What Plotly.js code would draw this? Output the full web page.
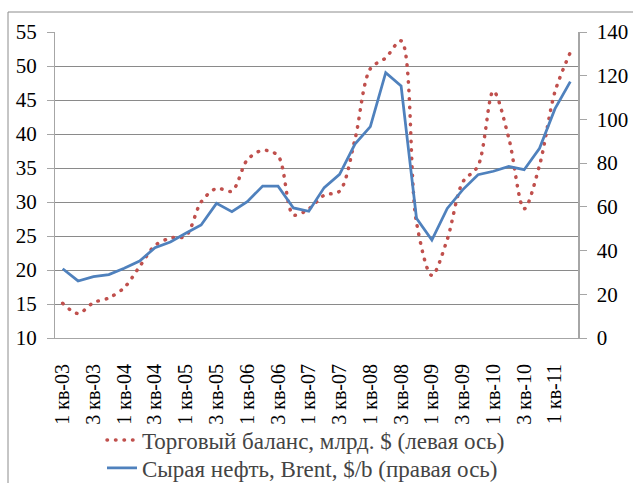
<!DOCTYPE html>
<html>
<head>
<meta charset="utf-8">
<script src="https://cdn.plot.ly/plotly-3.0.1.min.js"></script>
<style>
  html, body { margin: 0; padding: 0; background: #fff; overflow: hidden; }
  #chart { width: 633px; height: 483px; }
</style>
</head>
<body>
<div id="chart"></div>
<script>
// Quarters 1 кв-03 .. 2 кв-11
const categories = [
  "1 кв-03","2 кв-03","3 кв-03","4 кв-03",
  "1 кв-04","2 кв-04","3 кв-04","4 кв-04",
  "1 кв-05","2 кв-05","3 кв-05","4 кв-05",
  "1 кв-06","2 кв-06","3 кв-06","4 кв-06",
  "1 кв-07","2 кв-07","3 кв-07","4 кв-07",
  "1 кв-08","2 кв-08","3 кв-08","4 кв-08",
  "1 кв-09","2 кв-09","3 кв-09","4 кв-09",
  "1 кв-10","2 кв-10","3 кв-10","4 кв-10",
  "1 кв-11","2 кв-11"
];
const tickLabels = [
  "1 кв-03","3 кв-03","1 кв-04","3 кв-04","1 кв-05","3 кв-05",
  "1 кв-06","3 кв-06","1 кв-07","3 кв-07","1 кв-08","3 кв-08",
  "1 кв-09","3 кв-09","1 кв-10","3 кв-10","1 кв-11"
];
// Trade balance, bn $ (left axis)
const tradeBalance = [
  15.1, 13.6, 15.2, 15.9, 17.4, 20.5, 23.6, 24.7, 25.0, 30.0, 32.0, 31.6,
  36.2, 37.6, 36.8, 28.1, 29.0, 31.0, 31.6, 39.2, 49.6, 51.2, 53.7, 27.0,
  19.2, 24.5, 32.9, 35.3, 46.3, 39.4, 29.0, 35.4, 46.2, 52.0
];
// Brent, $/b (right axis)
const brent = [
  31.7, 26.1, 28.1, 29.0, 31.9, 35.2, 41.3, 43.9, 47.9, 51.7, 61.6, 57.8,
  62.4, 69.5, 69.5, 59.5, 58.0, 68.8, 74.9, 88.7, 96.7, 121.4, 115.3, 54.8,
  44.8, 59.3, 67.8, 74.7, 76.3, 78.5, 77.0, 86.8, 104.8, 117.3
];
const seriesNames = [
  "Торговый баланс, млрд. $ (левая ось)",
  "Сырая нефть, Brent, $/b (правая ось)"
];

const FONT = "Times New Roman";
const GRID = "#8a8a8a";
const AXIS = "#a6a6a6";

const traces = [
  {
    x: categories, y: tradeBalance, name: seriesNames[0], legend: "legend",
    type: "scatter", mode: "lines", xaxis: "x", yaxis: "y",
    line: { color: "#C0504D", width: 3.5, dash: "0.5px,8px", shape: "spline", smoothing: 0.9 },
    hoverinfo: "skip"
  },
  {
    x: categories, y: brent, name: seriesNames[1], legend: "legend2",
    type: "scatter", mode: "lines", xaxis: "x", yaxis: "y2",
    line: { color: "#4F81BD", width: 2.75 },
    hoverinfo: "skip"
  }
];

const n = categories.length;
const legendBase = {
  orientation: "v", xanchor: "left", yanchor: "middle",
  font: { family: FONT, size: 23 },
  bgcolor: "rgba(0,0,0,0)", borderwidth: 0
};
const layout = {
  width: 633, height: 483,
  margin: { l: 55, r: 55, t: 32, b: 145, autoexpand: false },
  paper_bgcolor: "#fff", plot_bgcolor: "#fff",
  font: { family: FONT },
  showlegend: true,
  legend: Object.assign({}, legendBase, { x: (102 - 55) / 523, y: (338 - 440) / 306 }),
  legend2: Object.assign({}, legendBase, { x: (102 - 55) / 523, y: (338 - 468) / 306 }),
  xaxis: {
    type: "category", categoryorder: "array", categoryarray: categories,
    range: [-0.5, n - 0.5], automargin: false,
    tickmode: "array", tickvals: tickLabels, ticktext: tickLabels,
    tickangle: -90, ticks: "outside", ticklen: 7, tickcolor: "rgba(0,0,0,0)",
    ticklabelstandoff: 10,
    showgrid: false, zeroline: false,
    showline: true, linecolor: AXIS, linewidth: 1,
    tickfont: { family: FONT, size: 20, color: "#000" },
    fixedrange: true
  },
  xaxis2: {
    overlaying: "x", anchor: "y", side: "bottom", type: "linear",
    range: [-0.5, n - 0.5], tick0: -0.5, dtick: 1, automargin: false,
    ticks: "outside", ticklen: 7, tickcolor: AXIS, tickwidth: 1,
    showticklabels: false, showgrid: false, zeroline: false, showline: false,
    fixedrange: true
  },
  yaxis: {
    range: [10, 55], dtick: 5, tick0: 10, automargin: false,
    ticks: "outside", ticklen: 7, tickcolor: AXIS,
    showgrid: true, gridcolor: GRID, gridwidth: 1,
    showline: true, linecolor: AXIS, linewidth: 1,
    zeroline: false, ticklabelstandoff: 6,
    tickfont: { family: FONT, size: 21, color: "#000" },
    fixedrange: true
  },
  yaxis2: {
    overlaying: "y", side: "right", anchor: "x", automargin: false,
    range: [0, 140], dtick: 20, tick0: 0,
    ticks: "outside", ticklen: 7, tickcolor: AXIS,
    showgrid: false, zeroline: false,
    showline: true, linecolor: AXIS, linewidth: 1.5,
    ticklabelstandoff: 6,
    tickfont: { family: FONT, size: 21, color: "#000" },
    fixedrange: true
  },
  yaxis3: {
    overlaying: "y", side: "right", anchor: "x", automargin: false,
    range: [0, 140], dtick: 20, tick0: 0,
    ticks: "inside", ticklen: 7, tickcolor: AXIS,
    showticklabels: false, showgrid: false, zeroline: false, showline: false,
    fixedrange: true
  },
  shapes: [
    {
      type: "rect", xref: "paper", yref: "paper",
      x0: (8 - 55) / 523, x1: 1.3, y0: -0.6, y1: 1 + 20 / 306,
      line: { color: "#8c8c8c", width: 1 }, fillcolor: "rgba(0,0,0,0)", layer: "below"
    }
  ]
};

Plotly.newPlot("chart", traces, layout, { displayModeBar: false, staticPlot: true }).then(function (gd) {
  gd.querySelectorAll("path.js-line").forEach(function (p) {
    const s = p.getAttribute("style") || "";
    if (s.indexOf("192, 80, 77") >= 0 || s.toLowerCase().indexOf("c0504d") >= 0) {
      p.style.strokeLinecap = "round";
    }
  });
});
</script>
</body>
</html>
